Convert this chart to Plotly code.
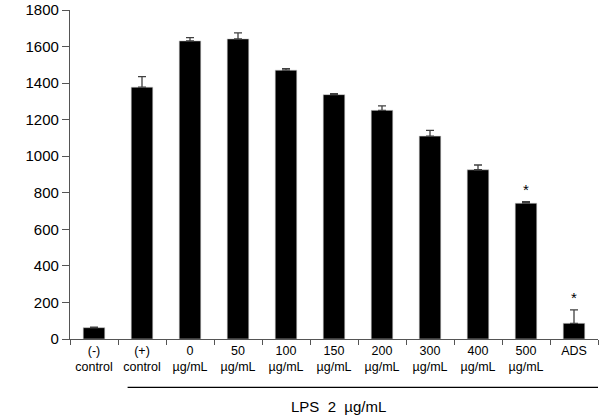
import plotly.graph_objects as go

categories = ["(-)<br>control", "(+)<br>control", "0<br>µg/mL", "50<br>µg/mL", "100<br>µg/mL",
              "150<br>µg/mL", "200<br>µg/mL", "300<br>µg/mL", "400<br>µg/mL", "500<br>µg/mL", "ADS"]
values = [62, 1378, 1631, 1642, 1471, 1337, 1251, 1110, 926, 743, 86]
errors = [3, 57, 18, 33, 8, 6, 24, 31, 26, 8, 73]
significant = [False, False, False, False, False, False, False, False, False, True, True]
y_ticks = [0, 200, 400, 600, 800, 1000, 1200, 1400, 1600, 1800]
group_label = "LPS  2  µg/mL"

FONT = "Liberation Sans, Arial, sans-serif"

fig = go.Figure()
fig.add_trace(go.Bar(
    x=categories, y=values,
    marker=dict(color="black", line=dict(color="#d0d0d0", width=0.6)),
    width=0.45,
    error_y=dict(type="data", array=errors, symmetric=False, arrayminus=[0]*len(errors),
                 color="#404040", thickness=1.3, width=4),
))

for c, v, e, s in zip(categories, values, errors, significant):
    if s:
        fig.add_annotation(x=c, y=v + e, text="*", showarrow=False, yshift=12,
                           font=dict(family=FONT, size=15, color="black"))

fig.add_shape(type="line", xref="x", yref="paper", x0=0.7, x1=10.85, y0=-0.147, y1=-0.147,
              line=dict(color="black", width=1.2))
fig.add_annotation(xref="x", yref="paper", x=5.1, y=-0.205, text=group_label, showarrow=False,
                   font=dict(family=FONT, size=15, color="black"), yanchor="middle")

fig.update_layout(
    width=605, height=419,
    margin=dict(l=70, r=7, t=10, b=80),
    plot_bgcolor="white", paper_bgcolor="white",
    showlegend=False,
    bargap=0.55,
    font=dict(family=FONT, color="black"),
)
fig.update_xaxes(
    type="category", tickson="boundaries", ticks="outside", ticklen=5, tickcolor="#555555",
    showline=True, linecolor="#555555", linewidth=1.2, showgrid=False, tickangle=0,
    tickfont=dict(family=FONT, size=12.5, color="black"), automargin=False,
    range=[-0.5, 10.5],
)
fig.update_yaxes(
    range=[0, 1800], tickvals=y_ticks, ticks="outside", ticklen=7, tickcolor="#555555",
    showline=True, linecolor="#555555", linewidth=1.2, showgrid=False, zeroline=False,
    tickfont=dict(family=FONT, size=15, color="black"), automargin=False,
)

fig.write_html("out.html")
